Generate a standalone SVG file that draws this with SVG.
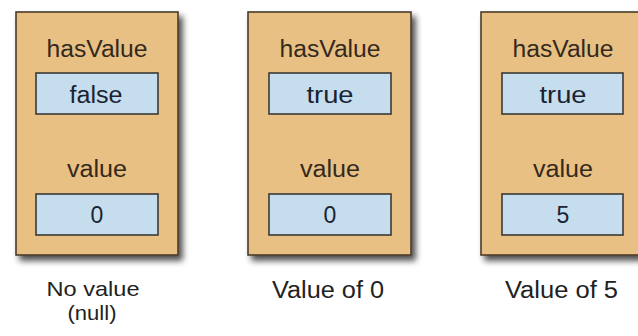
<svg xmlns="http://www.w3.org/2000/svg" width="638" height="336" viewBox="0 0 638 336">
<defs>
<filter id="sh" x="-10%" y="-10%" width="130%" height="130%">
<feGaussianBlur in="SourceAlpha" stdDeviation="3"/>
<feOffset dx="4" dy="5" result="b"/>
<feComponentTransfer><feFuncA type="linear" slope="0.7"/></feComponentTransfer>
<feMerge><feMergeNode/><feMergeNode in="SourceGraphic"/></feMerge>
</filter>
</defs>
<style>
.box{fill:#E9C084;stroke:#4A3B2A;stroke-width:1.6}
.cell{fill:#C6DDEE;stroke:#3A3A36;stroke-width:1.6}
text{font-family:"Liberation Sans",Arial,sans-serif;font-size:23px;text-anchor:middle}
.lbl{fill:#33291C}
.val{fill:#1A2333}
.cap{fill:#222222}
.sm{font-size:21px}
</style>
<rect width="638" height="336" fill="#FFFFFF"/>
<g id="node-null">
<rect class="box" x="16" y="12" width="162" height="243" filter="url(#sh)"/>
<text class="lbl" x="97" y="57" textLength="101" lengthAdjust="spacingAndGlyphs">hasValue</text>
<rect class="cell" x="36" y="73" width="122" height="41"/>
<text class="val" x="96" y="103" textLength="53" lengthAdjust="spacingAndGlyphs">false</text>
<text class="lbl" x="97" y="177" textLength="60" lengthAdjust="spacingAndGlyphs">value</text>
<rect class="cell" x="36" y="194" width="122" height="41"/>
<text class="val" x="97" y="223">0</text>
<text class="cap sm" x="93" y="296" textLength="93" lengthAdjust="spacingAndGlyphs">No value</text>
<text class="cap sm" x="92" y="320" textLength="49" lengthAdjust="spacingAndGlyphs">(null)</text>
</g>
<g id="node-zero">
<rect class="box" x="248" y="12" width="163" height="243" filter="url(#sh)"/>
<text class="lbl" x="330" y="57" textLength="101" lengthAdjust="spacingAndGlyphs">hasValue</text>
<rect class="cell" x="269" y="73" width="122" height="41"/>
<text class="val" x="330" y="103" textLength="47" lengthAdjust="spacingAndGlyphs">true</text>
<text class="lbl" x="330" y="177" textLength="60" lengthAdjust="spacingAndGlyphs">value</text>
<rect class="cell" x="269" y="194" width="122" height="41"/>
<text class="val" x="330" y="223">0</text>
<text class="cap" x="328" y="298" textLength="112" lengthAdjust="spacingAndGlyphs">Value of 0</text>
</g>
<g id="node-five">
<rect class="box" x="481" y="12" width="163" height="243" filter="url(#sh)"/>
<text class="lbl" x="563" y="57" textLength="101" lengthAdjust="spacingAndGlyphs">hasValue</text>
<rect class="cell" x="502" y="73" width="121" height="41"/>
<text class="val" x="563" y="103" textLength="47" lengthAdjust="spacingAndGlyphs">true</text>
<text class="lbl" x="563" y="177" textLength="60" lengthAdjust="spacingAndGlyphs">value</text>
<rect class="cell" x="502" y="194" width="121" height="41"/>
<text class="val" x="563" y="223">5</text>
<text class="cap" x="561.5" y="298" textLength="113" lengthAdjust="spacingAndGlyphs">Value of 5</text>
</g>
<g id="connectors"/>
</svg>
